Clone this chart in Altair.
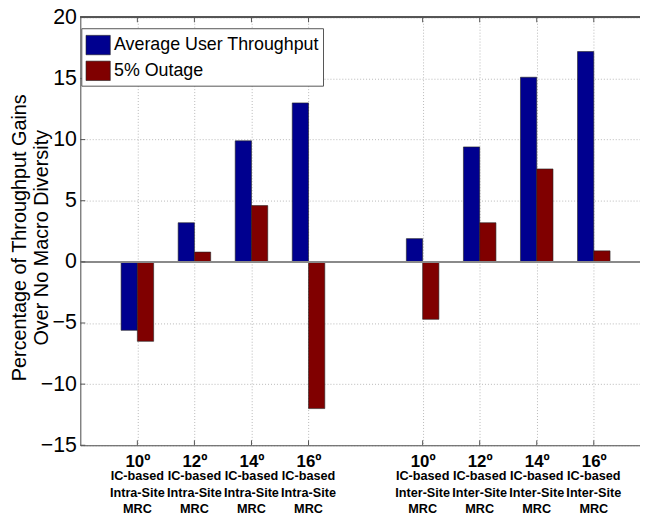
import altair as alt
import pandas as pd

# ---- data ----
groups = [1, 2, 3, 4, 6, 7, 8, 9]
degrees = ["10º", "12º", "14º", "16º", "10º", "12º", "14º", "16º"]
schemes = ["IC-based\nIntra-Site\nMRC"] * 4 + ["IC-based\nInter-Site\nMRC"] * 4
avg_throughput = [-5.6, 3.2, 9.9, 13.0, 1.9, 9.4, 15.1, 17.2]
outage_5 = [-6.5, 0.8, 4.6, -12.0, -4.7, 3.2, 7.6, 0.9]
series_names = ["Average User Throughput", "5% Outage"]
series_colors = ["#00008F", "#800000"]
y_ticks = [-15, -10, -5, 0, 5, 10, 15, 20]

W = 565
H = 432
XMAX = 9.81
YMIN, YMAX = -15, 20
BW = 0.285
FONT = "Liberation Sans"

rows = []
for g, a, o in zip(groups, avg_throughput, outage_5):
    rows.append({"series": series_names[0], "x": g - BW, "x2": g, "v": a, "zero": 0})
    rows.append({"series": series_names[1], "x": g, "x2": g + BW, "v": o, "zero": 0})
bars_df = pd.DataFrame(rows)

lab_df = pd.DataFrame({"g": groups, "deg": degrees, "scheme": schemes})

xscale = alt.Scale(domain=[0, XMAX], nice=False, zero=False)
yscale = alt.Scale(domain=[YMIN, YMAX], nice=False, zero=False)

label_expr = "{" + ",".join(f"'{g}': '{d}'" for g, d in zip(groups, degrees)) + "}[datum.value]"

grid_color = "#b8b8b8"
axis_color = "#555555"

bars = alt.Chart(bars_df).mark_bar(stroke="#222222", strokeWidth=0.6).encode(
    x=alt.X("x:Q", scale=xscale,
            axis=alt.Axis(values=groups, labelExpr=label_expr, title=None,
                          grid=True, gridDash=[1, 2], gridColor=grid_color,
                          ticks=False, domainColor=axis_color,
                          labelFont=FONT, labelFontSize=17, labelFontWeight="bold",
                          labelColor="black", labelPadding=8)),
    x2="x2:Q",
    y=alt.Y("zero:Q", scale=yscale,
            axis=alt.Axis(values=y_ticks, title=["Percentage of Throughput Gains", "Over No Macro Diversity"],
                          grid=True, gridDash=[1, 2], gridColor=grid_color,
                          ticks=False, domainColor=axis_color,
                          labelFont=FONT, labelFontSize=21.5, labelColor="black",
                          labelPadding=4,
                          titleFont=FONT, titleFontSize=20, titleFontWeight="normal",
                          titleColor="black", titleAngle=270, titleAlign="center",
                          titleBaseline="top", titleX=-71, titleY=222, titleLineHeight=22)),
    y2="v:Q",
    color=alt.Color("series:N",
                    scale=alt.Scale(domain=series_names, range=series_colors),
                    sort=series_names,
                    legend=alt.Legend(title=None, orient="none", legendX=1, legendY=11,
                                      direction="vertical",
                                      fillColor="white", strokeColor=axis_color,
                                      padding=4, rowPadding=2, labelOffset=3,
                                      labelLimit=400,
                                      labelFont=FONT, labelFontSize=18, labelColor="black",
                                      symbolType="M-1,-0.8H1V0.8H-1Z", symbolSize=600,
                                      symbolStrokeColor="#222222", symbolStrokeWidth=0.6,
                                      symbolOpacity=1)),
)

zero_line = alt.Chart(bars_df).mark_rule(color="#8a8a8a", strokeWidth=1.2).encode(
    y=alt.datum(0, scale=yscale), x=alt.value(0), x2=alt.value(W)
)

top_line = alt.Chart(bars_df).mark_rule(color=axis_color, strokeWidth=1).encode(
    y=alt.datum(YMAX, scale=yscale), x=alt.value(0), x2=alt.value(W)
)

tick_df = pd.DataFrame({"g": groups})
bot_ticks = alt.Chart(tick_df).mark_rule(color=axis_color).encode(
    x=alt.X("g:Q", scale=xscale), y=alt.value(H), y2=alt.value(H - 5)
)
top_ticks = alt.Chart(tick_df).mark_rule(color=axis_color).encode(
    x=alt.X("g:Q", scale=xscale), y=alt.value(0), y2=alt.value(5)
)
ytick_df = pd.DataFrame({"t": y_ticks})
left_ticks = alt.Chart(ytick_df).mark_rule(color=axis_color).encode(
    y=alt.Y("t:Q", scale=yscale), x=alt.value(0), x2=alt.value(5)
)

scheme_text = alt.Chart(lab_df).mark_text(
    font=FONT, fontSize=12.8, fontWeight="bold", baseline="top", align="center",
    lineBreak="\n", lineHeight=16.8, color="black"
).encode(
    x=alt.X("g:Q", scale=xscale),
    y=alt.value(H + 25),
    text="scheme:N",
)

chart = alt.layer(
    bars, zero_line, top_line, bot_ticks, top_ticks, left_ticks, scheme_text
).properties(
    width=W, height=H,
    autosize=alt.AutoSizeParams(type="none"),
    padding={"left": 73, "top": 7, "right": 0, "bottom": 70},
).configure_view(stroke=None).configure(font=FONT)

chart.save("out.html", embed_options={"renderer": "svg", "actions": False})
